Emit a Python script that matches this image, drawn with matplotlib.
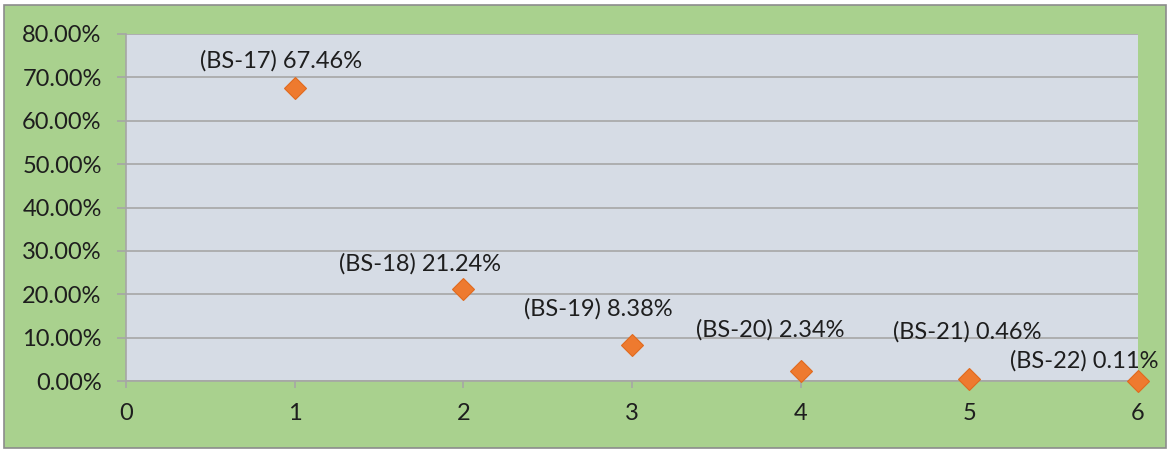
import matplotlib.pyplot as plt
from matplotlib.patches import Rectangle
from matplotlib.ticker import FuncFormatter

# data
x_vals = [1, 2, 3, 4, 5, 6]
pct_vals = [67.46, 21.24, 8.38, 2.34, 0.46, 0.11]
names = ['BS-17', 'BS-18', 'BS-19', 'BS-20', 'BS-21', 'BS-22']

# label offsets (pixels from the marker to the text centre)
lbl_dx = [-14, -43, -34, -30, -2, -54]
lbl_dy = [28, 25, 36, 41, 47, 20]

plt.rcParams['font.family'] = ['Lato', 'DejaVu Sans']

green = '#A9D18E'
plot_bg = '#D6DCE5'
grid_c = '#A6A6A6'
txt_c = '#1E1E1E'
fs = 17

fig = plt.figure(figsize=(11.7, 4.49), dpi=100)
fig.patch.set_facecolor('white')
# green chart area with thin grey border
fig.patches.append(Rectangle((4/1170, 1 - 448/449), 1162/1170, 443/449,
                             transform=fig.transFigure, facecolor=green,
                             edgecolor='#8C8C8C', linewidth=1.2, zorder=-10))

ax = fig.add_axes([126/1170, 1 - 381/449, 1012/1170, 347/449])
ax.set_facecolor(plot_bg)

ax.plot(x_vals, pct_vals, linestyle='none', marker='D', markersize=11.5,
        color='#EE7A2F', markeredgecolor='#E06A1E', markeredgewidth=0.8,
        clip_on=False, zorder=5)

for i in range(len(x_vals)):
    ax.annotate(f'({names[i]}) {pct_vals[i]:.2f}%', (x_vals[i], pct_vals[i]),
                xytext=(lbl_dx[i], lbl_dy[i]), textcoords='offset pixels',
                ha='center', va='center', fontsize=fs, color=txt_c,
                annotation_clip=False, zorder=6)

ax.set_xlim(0, 6)
ax.set_ylim(0, 80)
ax.set_xticks(range(0, 7))
ax.set_yticks(range(0, 81, 10))
ax.yaxis.set_major_formatter(FuncFormatter(lambda v, p: f'{v:.2f}%'))

ax.grid(axis='y', color=grid_c, linewidth=1.2)
ax.set_axisbelow(True)
for s in ['top', 'right']:
    ax.spines[s].set_visible(False)
for s in ['left', 'bottom']:
    ax.spines[s].set_color(grid_c)
    ax.spines[s].set_linewidth(1.2)

ax.tick_params(axis='y', length=6.5, width=1.2, color=grid_c, pad=11,
               labelsize=fs, labelcolor=txt_c)
ax.tick_params(axis='x', length=5, width=1.2, color=grid_c, pad=11,
               labelsize=fs, labelcolor=txt_c)

plt.savefig('out.png', dpi=100, facecolor=fig.get_facecolor())
